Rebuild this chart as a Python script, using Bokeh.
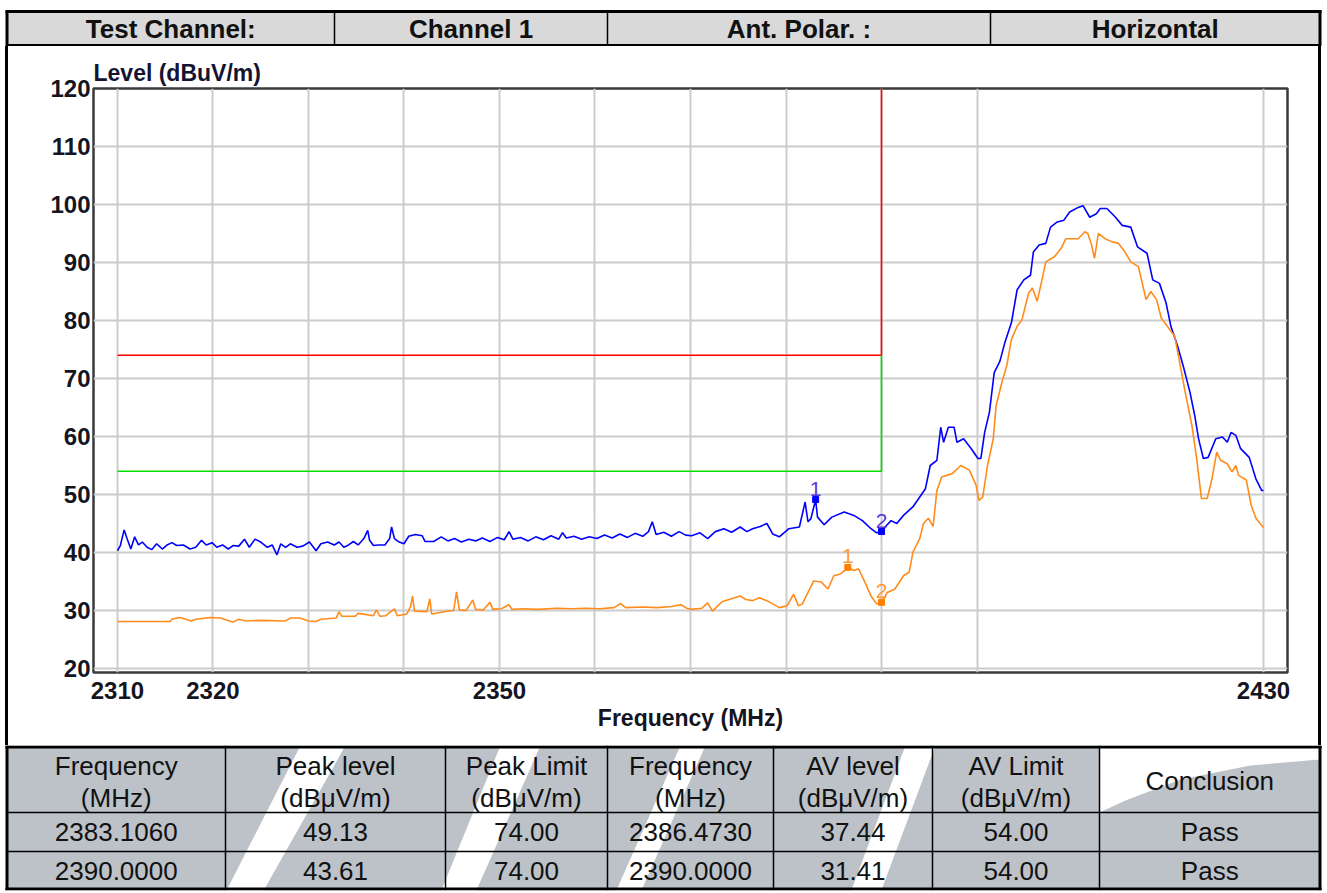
from bokeh.plotting import figure
from bokeh.models import Range1d, FixedTicker, Div
from bokeh.layouts import column, row
from bokeh.embed import file_html
from bokeh.resources import INLINE
from bokeh.core.properties import value

FONT = "Liberation Sans"

# ---------------- data ----------------
peak_freq = [2310.0, 2310.3, 2310.7, 2311.0, 2311.4, 2311.8, 2312.2, 2312.6, 2313.1, 2313.6,
             2314.1, 2314.7, 2315.2, 2315.7, 2316.2, 2316.9, 2317.6, 2318.2, 2318.8, 2319.3,
             2319.9, 2320.4, 2321.0, 2321.6, 2322.1, 2322.7, 2323.3, 2323.8, 2324.4, 2325.0,
             2325.7, 2326.2, 2326.7, 2327.1, 2327.6, 2328.1, 2328.8, 2329.4, 2330.1, 2330.8,
             2331.3, 2332.0, 2332.7, 2333.2, 2333.7, 2334.2, 2334.7, 2335.2, 2335.8, 2336.2,
             2336.4, 2336.8, 2337.3, 2338.0, 2338.5, 2338.7, 2339.0, 2339.5, 2340.0, 2340.5,
             2341.2, 2341.9, 2342.2, 2343.1, 2343.9, 2344.6, 2345.3, 2346.0, 2346.8, 2347.5,
             2348.2, 2349.0, 2349.8, 2350.5, 2351.0, 2351.4, 2352.2, 2353.0, 2353.8, 2354.6,
             2355.4, 2356.2, 2356.6, 2357.0, 2357.8, 2358.6, 2359.4, 2360.2, 2361.0, 2361.8,
             2362.6, 2363.4, 2364.2, 2365.0, 2365.6, 2366.0, 2366.4, 2367.2, 2368.0, 2368.8,
             2369.5, 2370.1, 2371.0, 2371.8, 2372.6, 2373.5, 2374.3, 2375.2, 2375.9, 2376.5,
             2377.3, 2378.0, 2378.6, 2379.3, 2380.3, 2381.4, 2382.0, 2382.3, 2382.6, 2383.1,
             2383.3, 2384.0, 2384.8, 2386.1, 2387.1, 2388.0, 2388.9, 2389.5, 2390.0, 2390.5,
             2391.0, 2391.6, 2392.3, 2393.3, 2394.6, 2395.1, 2395.8, 2396.2, 2396.5, 2397.0,
             2397.6, 2397.9, 2398.6, 2399.4, 2400.1, 2400.4, 2400.8, 2401.3, 2401.8, 2402.4,
             2402.9, 2403.6, 2404.2, 2404.9, 2405.6, 2405.9, 2406.5, 2407.2, 2407.7, 2408.4,
             2409.1, 2409.7, 2410.6, 2411.1, 2411.8, 2412.5, 2412.9, 2413.6, 2414.5, 2415.2,
             2416.1, 2416.8, 2417.8, 2418.4, 2419.1, 2419.8, 2420.3, 2421.0, 2421.6, 2422.3,
             2422.8, 2423.2, 2423.7, 2424.2, 2425.0, 2425.7, 2426.2, 2426.6, 2427.1, 2427.6,
             2428.5, 2429.2, 2429.8, 2430.0]
peak_level = [40.3, 41.2, 43.9, 42.4, 40.6, 42.7, 41.3, 41.8, 40.9, 40.5,
              41.5, 40.6, 41.3, 41.7, 41.2, 41.3, 40.6, 40.9, 42.1, 41.3,
              41.7, 40.9, 41.3, 40.6, 41.2, 41.1, 42.3, 40.9, 42.3, 41.8,
              40.9, 41.3, 39.6, 41.5, 40.9, 41.5, 40.9, 41.1, 41.8, 40.3,
              41.5, 41.8, 41.3, 41.8, 40.9, 41.3, 41.9, 41.3, 42.4, 43.8,
              42.1, 41.2, 41.3, 41.3, 42.4, 44.4, 42.4, 41.8, 41.5, 42.8,
              43.1, 42.9, 41.9, 41.9, 42.7, 42.0, 42.4, 41.8, 42.3, 42.0,
              42.5, 41.9, 42.6, 42.2, 43.6, 42.3, 42.6, 42.0, 42.7, 42.2,
              42.9, 42.3, 43.4, 42.5, 42.8, 42.3, 42.7, 42.4, 43.0, 42.5,
              43.2, 42.6, 43.3, 42.8, 43.6, 45.3, 43.1, 43.5, 42.8, 43.6,
              43.0, 42.9, 43.4, 42.4, 43.6, 44.1, 43.5, 44.4, 43.6, 44.1,
              44.5, 45.0, 43.2, 42.7, 44.1, 44.4, 48.7, 45.3, 45.8, 49.1,
              46.1, 44.8, 46.1, 47.0, 46.4, 45.5, 44.1, 43.4, 43.6, 44.6,
              45.5, 45.0, 46.4, 47.9, 51.0, 55.0, 55.9, 61.6, 59.0, 61.6,
              61.6, 59.0, 59.6, 57.9, 56.2, 56.2, 60.7, 64.2, 71.0, 73.0,
              76.1, 79.6, 85.3, 87.0, 87.8, 91.8, 93.0, 93.3, 96.1, 97.0,
              97.3, 98.7, 99.5, 99.8, 97.8, 98.4, 99.3, 99.3, 97.8, 96.4,
              96.1, 92.7, 91.6, 87.0, 86.4, 83.0, 79.0, 75.6, 72.1, 67.6,
              63.6, 59.6, 56.2, 56.4, 59.6, 59.9, 59.0, 60.7, 60.2, 57.9,
              56.4, 52.7, 50.7, 50.7]

av_freq = [2310.0, 2315.5, 2315.7, 2316.5, 2317.2, 2317.7, 2318.2, 2319.7, 2320.8, 2321.5,
           2322.1, 2322.7, 2323.5, 2325.0, 2327.6, 2328.1, 2329.1, 2330.0, 2330.8, 2331.3,
           2332.9, 2333.2, 2333.5, 2334.9, 2335.2, 2336.8, 2337.1, 2337.5, 2338.1, 2339.0,
           2339.3, 2340.3, 2340.7, 2340.9, 2341.1, 2342.4, 2342.7, 2342.9, 2343.9, 2344.6,
           2345.2, 2345.5, 2345.8, 2346.5, 2347.2, 2347.5, 2348.3, 2349.0, 2349.3, 2350.2,
           2351.0, 2351.3, 2352.5, 2354.0, 2356.0, 2357.5, 2359.0, 2360.5, 2362.0, 2362.7,
           2363.2, 2365.0, 2366.5, 2368.0, 2369.0, 2369.6, 2370.1, 2371.2, 2371.8, 2372.3,
           2373.3, 2374.2, 2375.2, 2375.8, 2376.5, 2377.2, 2378.0, 2379.3, 2380.1, 2380.8,
           2381.3, 2381.7, 2382.9, 2383.7, 2384.4, 2385.0, 2385.7, 2386.5, 2387.1, 2387.6,
           2388.2, 2388.9, 2389.5, 2390.0, 2390.6, 2391.4, 2392.3, 2392.9, 2393.3, 2394.0,
           2394.4, 2394.9, 2395.4, 2395.8, 2396.3, 2397.4, 2398.3, 2399.2, 2399.9, 2400.2,
           2400.6, 2401.1, 2401.7, 2402.0, 2402.6, 2403.1, 2403.6, 2404.2, 2404.7, 2405.4,
           2405.8, 2406.3, 2406.8, 2407.2, 2408.1, 2408.8, 2409.3, 2410.6, 2411.3, 2411.6,
           2412.0, 2412.3, 2412.7, 2413.4, 2414.1, 2414.8, 2415.5, 2416.1, 2416.9, 2417.7,
           2418.2, 2418.8, 2419.3, 2420.2, 2420.7, 2421.3, 2421.8, 2422.5, 2423.0, 2423.5,
           2424.1, 2424.6, 2425.1, 2425.5, 2426.2, 2426.7, 2427.1, 2427.4, 2428.2, 2428.7,
           2429.2, 2429.9, 2430.0]
av_level = [28.1, 28.1, 28.5, 28.8, 28.5, 28.2, 28.5, 28.8, 28.7, 28.3,
            28.0, 28.5, 28.2, 28.3, 28.2, 28.7, 28.7, 28.2, 28.1, 28.5,
            28.7, 29.8, 29.0, 29.0, 29.5, 29.1, 30.1, 29.0, 29.1, 30.3,
            29.1, 29.4, 30.7, 32.5, 29.9, 29.8, 32.0, 29.4, 29.7, 29.9,
            30.0, 33.2, 30.1, 30.0, 31.8, 30.2, 30.1, 31.4, 30.2, 30.3,
            31.0, 30.2, 30.3, 30.2, 30.4, 30.3, 30.4, 30.3, 30.5, 31.2,
            30.5, 30.6, 30.5, 30.7, 31.0, 30.4, 30.2, 30.4, 31.3, 29.9,
            31.5, 32.0, 32.5, 31.9, 31.7, 32.2, 31.7, 30.5, 30.8, 32.8,
            30.8, 31.1, 35.1, 34.9, 33.7, 36.0, 36.3, 37.4, 36.9, 37.2,
            35.1, 32.5, 31.1, 31.4, 33.1, 33.7, 36.0, 36.6, 40.1, 42.4,
            45.0, 45.9, 44.5, 50.7, 53.0, 53.6, 55.0, 54.2, 51.6, 49.0,
            49.6, 55.0, 59.6, 65.3, 69.3, 72.1, 76.7, 79.0, 80.1, 84.7,
            85.6, 83.3, 87.0, 90.1, 91.0, 92.4, 94.1, 94.1, 95.3, 95.0,
            93.0, 90.7, 95.0, 94.1, 93.6, 93.3, 91.8, 90.1, 89.3, 83.6,
            85.0, 83.6, 80.4, 78.4, 77.3, 72.1, 67.6, 61.9, 56.2, 49.3,
            49.3, 52.7, 57.3, 55.9, 55.3, 53.9, 55.0, 53.3, 52.5, 48.2,
            45.9, 44.5, 44.3]

limit_edge_freq = 2390.0
peak_limit = 74.00
av_limit = 54.00

peak_marker_freq = [2383.1060, 2390.0000]
peak_marker_level = [49.13, 43.61]
av_marker_freq = [2386.4730, 2390.0000]
av_marker_level = [37.44, 31.41]
marker_ids = ["1", "2"]
conclusions = ["Pass", "Pass"]

x_label_ticks = [2310, 2320, 2350, 2430]
x_grid_ticks = [2310, 2320, 2330, 2340, 2350, 2360, 2370, 2380, 2390, 2400, 2430]
y_ticks = [20, 30, 40, 50, 60, 70, 80, 90, 100, 110, 120]

header_labels = ["Test Channel:", "Channel 1", "Ant. Polar. :", "Horizontal"]
table_head_1 = ["Frequency", "Peak level", "Peak Limit", "Frequency", "AV level", "AV Limit", ""]
table_head_2 = ["(MHz)", "(dB\u03bcV/m)", "(dB\u03bcV/m)", "(MHz)", "(dB\u03bcV/m)", "(dB\u03bcV/m)", ""]

W = 1324            # page width used by header / table strips
XL, XR = 6.5, 1319.5  # outer border centre lines


def plain(width, height):
    f = figure(width=width, height=height, x_range=Range1d(0, width), y_range=Range1d(height, 0),
               min_border=0, toolbar_location=None, output_backend="svg",
               x_axis_location=None, y_axis_location=None)
    f.grid.visible = False
    f.outline_line_color = None
    f.background_fill_color = "white"
    f.border_fill_color = "white"
    return f


# ---------------- header strip (page y 0..46) ----------------
HH = 46
hdr = plain(W, HH)
hdr.quad(left=[XL], right=[XR], top=[10], bottom=[HH], fill_color="#d9d9d9", line_color=None)
hdr_edges = [XL, 334, 607, 990, XR]
for xe in hdr_edges[1:-1]:
    hdr.line([xe, xe], [10, HH], line_color="black", line_width=1.5)
hdr.line([XL - 1.5, XR + 1.5], [11, 11], line_color="black", line_width=3)
hdr.line([XL, XR], [HH - 1.2, HH - 1.2], line_color="black", line_width=2.5)
hdr.line([XL, XL], [10, HH], line_color="black", line_width=3)
hdr.line([XR, XR], [10, HH], line_color="black", line_width=3)
hdr_cx = [(hdr_edges[i] + hdr_edges[i + 1]) / 2 for i in range(4)]
hdr.text(x=hdr_cx, y=[28.5] * 4, text=header_labels, text_align="center", text_baseline="middle",
         text_font=value(FONT), text_font_style="bold", text_font_size="26px", text_color="#111111")

# ---------------- chart (page y 46..745, x 8..1318) ----------------
CH = 699
p = figure(width=1310, height=CH, x_range=Range1d(2307.49, 2432.51), y_range=Range1d(19.31, 120.0),
           min_border_left=85, min_border_right=31, min_border_top=42, min_border_bottom=73,
           toolbar_location=None, output_backend="svg")
p.background_fill_color = "white"
p.border_fill_color = "white"
p.outline_line_color = "#3a3a3a"
p.outline_line_width = 2.5

p.title.text = "Level (dBuV/m)"
p.title.align = "left"
p.title.text_font = FONT
p.title.text_font_style = "bold"
p.title.text_font_size = "23px"
p.title.text_color = "#141432"
p.title.offset = 0
p.title.standoff = 6

p.xaxis.ticker = FixedTicker(ticks=x_label_ticks)
p.xgrid.ticker = FixedTicker(ticks=x_grid_ticks)
p.yaxis.ticker = FixedTicker(ticks=y_ticks)
p.ygrid.ticker = FixedTicker(ticks=y_ticks)
for ax in (p.xaxis, p.yaxis):
    ax.axis_line_color = None
    ax.major_tick_line_color = None
    ax.minor_tick_line_color = None
    ax.major_tick_out = 0
    ax.major_tick_in = 0
    ax.minor_tick_out = 0
    ax.minor_tick_in = 0
    ax.major_label_text_font = FONT
    ax.major_label_text_font_style = "bold"
    ax.major_label_text_font_size = "24px"
    ax.major_label_text_color = "#15151f"
p.yaxis.major_label_standoff = 3
p.xaxis.major_label_standoff = 9
p.xaxis.axis_label = "Frequency (MHz)"
p.xaxis.axis_label_text_font = FONT
p.xaxis.axis_label_text_font_style = "bold"
p.xaxis.axis_label_text_font_size = "23px"
p.xaxis.axis_label_text_color = "#15151f"
p.xaxis.axis_label_standoff = 3
p.grid.grid_line_color = "#cccccc"
p.grid.grid_line_width = 2

p.line([x_grid_ticks[0], limit_edge_freq, limit_edge_freq], [peak_limit, peak_limit, y_ticks[-1]],
       line_color="#ff0000", line_width=1.6)
p.line([x_grid_ticks[0], limit_edge_freq, limit_edge_freq], [av_limit, av_limit, peak_limit],
       line_color="#00dd00", line_width=1.6)

p.line(peak_freq, peak_level, line_color="#0000ff", line_width=1.6)
p.line(av_freq, av_level, line_color="#ff8c1a", line_width=1.6)

p.scatter(peak_marker_freq, peak_marker_level, marker="square", size=6, color="#0000ff")
p.scatter(av_marker_freq, av_marker_level, marker="square", size=6, color="#ff8000")
p.text(peak_marker_freq, peak_marker_level, text=marker_ids, text_align="center", text_baseline="bottom",
       y_offset=-4, text_font=value(FONT), text_font_size="21px", text_color="#5a38d8")
p.text(av_marker_freq, av_marker_level, text=marker_ids, text_align="center", text_baseline="bottom",
       y_offset=-4, text_font=value(FONT), text_font_size="21px", text_color="#ff9a33")

side_l = Div(text="", width=3, height=CH, margin=(0, 0, 0, 5), styles={"background-color": "black"})
side_r = Div(text="", width=3, height=CH, margin=(0, 0, 0, 0), styles={"background-color": "black"})

# ---------------- table strip (page y 745..892) ----------------
TH = 147
tbl = plain(W, TH)
GRAY = "#bcc2c8"
tbl.quad(left=[XL], right=[XR], top=[0], bottom=[TH], fill_color=GRAY, line_color=None)
band_xs = [[300, 345, 262, 225], [500, 540, 475, 440], [680, 705, 640, 615], [905, 935, 880, 850]]
band_ys = [[0, 0, TH, TH], [0, 0, TH, TH], [0, 0, TH, TH], [0, 0, TH, TH]]
tbl.patches(band_xs, band_ys, fill_color="white", line_color=None)
tbl.patches([[1099, XR, XR, 1250, 1180, 1125, 1099]], [[0, 0, 14, 20, 34, 55, 67]],
            fill_color="white", line_color=None)

col_edges = [XL, 225, 445, 607, 773, 932, 1099, XR]
row_edges = [0, 67, 106, 145]
for xe in col_edges[1:-1]:
    tbl.line([xe, xe], [0, 145], line_color="black", line_width=1.5)
for ye in row_edges[1:-1]:
    tbl.line([XL, XR], [ye, ye], line_color="black", line_width=1.5)
tbl.line([XL - 1.5, XR + 1.5], [1.5, 1.5], line_color="black", line_width=3)
tbl.line([XL - 1.5, XR + 1.5], [143.5, 143.5], line_color="black", line_width=3)
tbl.line([XL, XL], [0, 145], line_color="black", line_width=3)
tbl.line([XR, XR], [0, 145], line_color="black", line_width=3)
tbl.quad(left=[0], right=[W], top=[145], bottom=[TH], fill_color="white", line_color=None)

cx = [(col_edges[i] + col_edges[i + 1]) / 2 for i in range(7)]
tfont = dict(text_align="center", text_baseline="middle", text_font=value(FONT),
             text_font_size="26px", text_color="#111111")
tbl.text(cx, [20] * 7, text=table_head_1, **tfont)
tbl.text(cx, [52] * 7, text=table_head_2, **tfont)
tbl.text([cx[6]], [35], text=["Conclusion"], **tfont)
for r in range(2):
    vals = [f"{peak_marker_freq[r]:.4f}", f"{peak_marker_level[r]:.2f}", f"{peak_limit:.2f}",
            f"{av_marker_freq[r]:.4f}", f"{av_marker_level[r]:.2f}", f"{av_limit:.2f}", conclusions[r]]
    yc = (row_edges[r + 1] + row_edges[r + 2]) / 2
    tbl.text(cx, [yc] * 7, text=vals, **tfont)

layout = column(hdr, row(side_l, p, side_r), tbl)
open("out.html", "w").write(file_html(layout, INLINE))
